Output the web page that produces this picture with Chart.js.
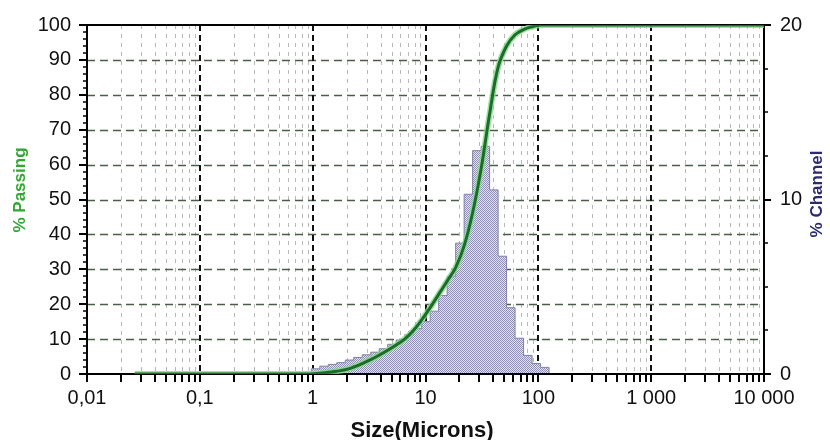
<!DOCTYPE html>
<html>
<head>
<meta charset="utf-8">
<script src="https://cdn.jsdelivr.net/npm/chart.js@4.4.1/dist/chart.umd.min.js"></script>
<style>
  html, body { margin: 0; padding: 0; background: #fff; }
  #wrap { position: relative; width: 830px; height: 440px; }
</style>
</head>
<body>
<div id="wrap"><canvas id="chart1"></canvas></div>
<script>
// x axis decades and their labels
const xDecades = [0.01, 0.1, 1, 10, 100, 1000, 10000];
const xTickLabels = ['0,01', '0,1', '1', '10', '100', '1 000', '10 000'];

// histogram channel edges (microns) and % channel per bin
const binEdges = [0.972, 1.156, 1.375, 1.635, 1.945, 2.312, 2.75, 3.27, 3.89, 4.625,
  5.5, 6.54, 7.78, 9.25, 11, 13.08, 15.56, 18.5, 22, 26.16,
  31.11, 37, 44, 52.33, 62.23, 74, 88, 104.7, 124.5];
const channel = [0.3, 0.45, 0.55, 0.65, 0.8, 0.95, 1.1, 1.25, 1.45, 1.7,
  1.95, 2.25, 2.6, 3.0, 3.6, 4.5, 5.6, 7.5, 10.3, 12.8,
  13.05, 10.55, 6.75, 3.8, 2.05, 1.07, 0.6, 0.38];

// cumulative % passing curve
const curveSizes = [0.0265, 0.972, 1.156, 1.375, 1.635, 1.945, 2.312, 2.75, 3.27, 3.89,
  4.625, 5.5, 6.54, 7.78, 9.25, 11, 13.08, 15.56, 18.5, 22,
  26.16, 31.11, 37, 44, 52.33, 62.23, 74, 88, 104.7, 124.5, 10000];
const passing = [0, 0, 0.2, 0.5, 0.8, 1.2, 2.0, 3.0, 4.1, 5.4,
  6.8, 8.3, 10.0, 12.4, 15.5, 19.0, 22.8, 26.6, 30.5, 36.7,
  46.2, 58.8, 74.5, 87.9, 94.0, 97.2, 98.7, 99.5, 100, 100, 100];

const FONT = "'Liberation Sans', Arial, sans-serif";
Chart.defaults.font.family = FONT;

const ctx1 = document.getElementById('chart1').getContext('2d');

// checkered fill like the original bars
function Checker() {
    const c = document.createElement('canvas');
    c.width = 2; c.height = 2;
    const g = c.getContext('2d');
    g.fillStyle = '#e0e0ee'; g.fillRect(0, 0, 2, 2);
    g.fillStyle = '#9090b8'; g.fillRect(0, 0, 1, 1); g.fillRect(1, 1, 1, 1);
    return ctx1.createPattern(c, 'repeat');
}

const histPoints = [{ x: binEdges[0], y: 0 }];
channel.forEach((v, i) => histPoints.push({ x: binEdges[i], y: v }));
histPoints.push({ x: binEdges[binEdges.length - 1], y: 0 });

const curvePoints = curveSizes.map((s, i) => ({ x: s, y: passing[i] }));

const gridPlugin = {
    id: 'gridPlugin',
    beforeDatasetsDraw(chart) {
        const { ctx, chartArea: a, scales: { x, y } } = chart;
        ctx.save();
        // minor vertical grid
        ctx.lineWidth = 1;
        ctx.strokeStyle = '#b8b8b8';
        ctx.setLineDash([4, 5]);
        xDecades.slice(0, -1).forEach(d => {
            for (let m = 2; m < 10; m++) {
                const px = Math.round(x.getPixelForValue(d * m)) + 0.5;
                ctx.beginPath(); ctx.moveTo(px, a.top); ctx.lineTo(px, a.bottom); ctx.stroke();
            }
        });
        // horizontal grid
        ctx.lineWidth = 1.6;
        ctx.strokeStyle = '#4a5c4a';
        ctx.setLineDash([8, 5]);
        for (let v = 10; v < 100; v += 10) {
            const py = Math.round(y.getPixelForValue(v)) + 0.5;
            ctx.beginPath(); ctx.moveTo(a.left, py); ctx.lineTo(a.right, py); ctx.stroke();
        }
        // decade lines
        ctx.lineWidth = 2;
        ctx.strokeStyle = '#111';
        ctx.setLineDash([6, 4]);
        xDecades.slice(1, -1).forEach(d => {
            const px = Math.round(x.getPixelForValue(d));
            ctx.beginPath(); ctx.moveTo(px, a.top); ctx.lineTo(px, a.bottom); ctx.stroke();
        });
        // frame
        ctx.setLineDash([]);
        ctx.strokeStyle = '#000';
        ctx.strokeRect(a.left, a.top, a.right - a.left, a.bottom - a.top);
        ctx.restore();
    },
    afterDatasetDraw(chart, args) {
        if (args.index !== 2) return;
        const { ctx, chartArea: a } = chart;
        ctx.save();
        ctx.lineWidth = 2; ctx.strokeStyle = '#000';
        ctx.beginPath(); ctx.moveTo(a.left, a.bottom); ctx.lineTo(a.right, a.bottom); ctx.stroke();
        ctx.restore();
    },
    afterDraw(chart) {
        const { ctx, chartArea: a, scales: { x, y, y2 } } = chart;
        ctx.save();
        ctx.strokeStyle = '#000';
        // x ticks
        ctx.lineWidth = 2;
        xDecades.forEach((d, k) => {
            for (let m = 1; m < 10; m++) {
                if (k === xDecades.length - 1 && m > 1) break;
                const px = Math.round(x.getPixelForValue(d * m));
                ctx.beginPath(); ctx.moveTo(px, a.bottom); ctx.lineTo(px, a.bottom + 8); ctx.stroke();
            }
        });
        // left ticks
        for (let v = 0; v <= 100; v += 2) {
            const py = Math.round(y.getPixelForValue(v));
            const len = v % 10 === 0 ? 8 : 4;
            ctx.lineWidth = v % 10 === 0 ? 2 : 1.5;
            ctx.beginPath(); ctx.moveTo(a.left - len, py); ctx.lineTo(a.left, py); ctx.stroke();
        }
        // right ticks
        for (let v = 0; v <= 20; v += 2.5) {
            const py = Math.round(y2.getPixelForValue(v));
            const len = v % 10 === 0 ? 7 : 4;
            ctx.lineWidth = v % 10 === 0 ? 2 : 1.5;
            ctx.beginPath(); ctx.moveTo(a.right, py); ctx.lineTo(a.right + len, py); ctx.stroke();
        }
        // titles
        ctx.textAlign = 'center';
        ctx.textBaseline = 'middle';
        ctx.font = 'bold 17px ' + FONT;
        ctx.fillStyle = '#33a633';
        ctx.save(); ctx.translate(20, 190); ctx.rotate(-Math.PI / 2); ctx.fillText('% Passing', 0, 0); ctx.restore();
        ctx.fillStyle = '#2b2b6e';
        ctx.save(); ctx.translate(817, 194); ctx.rotate(-Math.PI / 2); ctx.fillText('% Channel', 0, 0); ctx.restore();
        ctx.fillStyle = '#111';
        ctx.font = 'bold 22px ' + FONT;
        ctx.textBaseline = 'alphabetic';
        ctx.fillText('Size(Microns)', 422, 437);
        ctx.restore();
    }
};

let chart1 = new Chart(ctx1, {
    type: 'line',
    data: {
        datasets: [{
            label: '% Passing',
            data: curvePoints,
            yAxisID: 'y',
            borderColor: '#1e6a2e',
            borderWidth: 3,
            pointRadius: 0,
            tension: 0.4,
            fill: false,
            order: 0
        }, {
            label: 'halo',
            data: curvePoints,
            yAxisID: 'y',
            borderColor: 'rgba(130, 220, 130, 0.8)',
            borderWidth: 6,
            pointRadius: 0,
            tension: 0.4,
            fill: false,
            order: 1
        }, {
            label: '% Channel',
            data: histPoints,
            yAxisID: 'y2',
            stepped: true,
            borderColor: '#8282a8',
            borderWidth: 1,
            backgroundColor: Checker(),
            pointRadius: 0,
            fill: 'origin',
            order: 2
        }]
    },
    options: {
        responsive: true,
        maintainAspectRatio: false,
        animation: false,
        layout: { padding: { top: 25 } },
        plugins: { legend: { display: false }, tooltip: { enabled: false } },
        scales: {
            x: {
                type: 'logarithmic',
                position: 'bottom',
                min: 0.01,
                max: 10000,
                afterBuildTicks: s => { s.ticks = xDecades.map(v => ({ value: v })); },
                afterFit: s => { s.height = 66; },
                grid: { display: false },
                border: { display: false },
                ticks: {
                    autoSkip: false,
                    maxRotation: 0,
                    padding: 4,
                    color: '#111',
                    font: { size: 20 },
                    callback: (v, i) => xTickLabels[i]
                }
            },
            y: {
                position: 'left',
                min: 0,
                max: 100,
                afterFit: s => { s.width = 87; },
                grid: { display: false },
                border: { display: false },
                ticks: { stepSize: 10, padding: 8, color: '#111', font: { size: 20 } }
            },
            y2: {
                position: 'right',
                min: 0,
                max: 20,
                afterFit: s => { s.width = 66; },
                grid: { display: false },
                border: { display: false },
                ticks: { stepSize: 10, padding: 8, color: '#111', font: { size: 20 } }
            }
        }
    },
    plugins: [gridPlugin]
});
</script>
</body>
</html>
